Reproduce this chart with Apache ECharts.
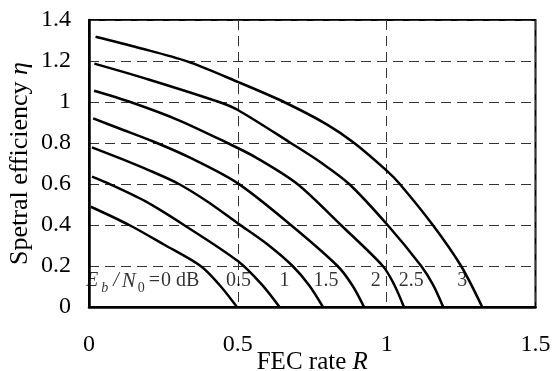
<!DOCTYPE html>
<html>
<head>
<meta charset="utf-8">
<script src="https://cdn.jsdelivr.net/npm/echarts@6/dist/echarts.min.js"></script>
<style>
  html, body { margin: 0; background: #fff; }
  #chart { width: 553px; height: 371px; }
</style>
</head>
<body>
<div id="chart"></div>
<script>
// spectral efficiency vs FEC rate, one curve per Eb/N0 (dB)
const ebn0 = ['0', '0.5', '1', '1.5', '2', '2.5', '3']

// [R, eta]
const curve0 = [[0.006, 0.489], [0.135, 0.40], [0.25, 0.306], [0.375, 0.20], [0.44, 0.105], [0.497, 0]]
const curve05 = [[0.01, 0.636], [0.061, 0.605], [0.19, 0.515], [0.319, 0.40], [0.5, 0.224], [0.58, 0.11], [0.64, 0]]
const curve1 = [[0.01, 0.779], [0.105, 0.725], [0.2, 0.668], [0.302, 0.60], [0.4, 0.512], [0.5, 0.408], [0.6, 0.305], [0.684, 0.20], [0.74, 0.105], [0.786, 0]]
const curve15 = [[0.014, 0.92], [0.1, 0.872], [0.218, 0.806], [0.341, 0.727], [0.5, 0.603], [0.678, 0.40], [0.835, 0.20], [0.885, 0.105], [0.924, 0]]
const curve2 = [[0.017, 1.055], [0.139, 1.0], [0.3, 0.912], [0.465, 0.80], [0.56, 0.73], [0.7, 0.60], [0.846, 0.40], [0.987, 0.20], [1.025, 0.11], [1.058, 0]]
const curve25 = [[0.018, 1.187], [0.2, 1.11], [0.437, 1.0], [0.5, 0.961], [0.678, 0.80], [0.779, 0.705], [0.874, 0.60], [1.003, 0.40], [1.116, 0.20], [1.155, 0.11], [1.19, 0]]
const curve3 = [[0.022, 1.318], [0.166, 1.265], [0.33, 1.198], [0.5, 1.098], [0.655, 1.0], [0.8, 0.89], [0.891, 0.80], [1.0, 0.665], [1.044, 0.60], [1.155, 0.40], [1.25, 0.20], [1.321, 0]]

const curves = [curve0, curve05, curve1, curve15, curve2, curve25, curve3]

const font = '"Liberation Serif", "Times New Roman", serif'

// where the Eb/N0 tags sit
const tagAt = [[-0.01, 0.122], [0.502, 0.122], [0.657, 0.122], [0.796, 0.122], [0.963, 0.122], [1.083, 0.122], [1.254, 0.122]]

const chart = echarts.init(document.getElementById('chart'))

const series = curves.map((pts, i) => ({
  name: ebn0[i] + ' dB',
  type: 'line',
  data: pts,
  symbol: 'none',
  smooth: 0.3,
  lineStyle: { color: '#000', width: 2.5 },
  z: 3
}))

const tok = (extra) => Object.assign({ fontSize: 20, fontFamily: font, color: '#000', verticalAlign: 'top', lineHeight: 22 }, extra)

series.push({
  type: 'scatter',
  symbolSize: 0,
  clip: false,
  silent: true,
  data: tagAt.map((p, i) => ({
    value: p,
    label: {
      show: true,
      position: 'inside',
      align: i === 0 ? 'left' : 'center',
      verticalAlign: 'middle',
      formatter: i === 0
        ? '{e|E}{s|b}{sl|/}{nn|N}{z|0}{eq|=}{n|0 dB}'
        : '{n|' + ebn0[i] + '}'
    }
  })),
  label: {
    color: '#000',
    fontFamily: font,
    rich: {
      n: tok({}),
      e: tok({ fontStyle: 'italic', padding: [0, 1, 0, 0] }),
      sl: tok({ fontStyle: 'italic', padding: [0, 2, 0, 2] }),
      nn: tok({ fontStyle: 'italic', fontSize: 21, padding: [0, 1, 0, 1] }),
      eq: tok({ padding: [0, 1, 0, 2] }),
      s: tok({ fontSize: 14, fontStyle: 'italic', lineHeight: 14, padding: [10, 3, 0, 2] }),
      z: tok({ fontSize: 14, lineHeight: 14, padding: [10, 2, 0, 1] })
    }
  },
  z: 4
})

const splitDash = { color: '#333', width: 1, type: [10, 6] }

const nameStyle = (size) => ({
  fontSize: size, fontFamily: font, color: '#000',
  rich: { i: { fontSize: size, fontFamily: font, fontStyle: 'italic', color: '#000' } }
})

chart.setOption({
  animation: false,
  backgroundColor: '#fff',
  grid: {
    left: 89, right: 17.5, top: 20, bottom: 64,
    outerBoundsMode: 'none',
    containLabel: false,
    show: true, borderColor: '#000', borderWidth: 2
  },
  xAxis: {
    type: 'value',
    min: 0, max: 1.5, interval: 0.5,
    name: 'FEC rate {i|R}',
    nameLocation: 'middle',
    nameGap: 43,
    nameMoveOverlap: false,
    nameTextStyle: nameStyle(25),
    axisLine: { show: true, lineStyle: { color: '#000', width: 2.5 } },
    axisTick: { show: false },
    axisLabel: { margin: 26, fontSize: 24, fontFamily: font, color: '#000' },
    splitLine: { show: true, lineStyle: splitDash }
  },
  yAxis: {
    type: 'value',
    min: 0, max: 1.4, interval: 0.2,
    name: 'Spetral efficiency {i|η}',
    nameLocation: 'middle',
    nameGap: 56,
    nameMoveOverlap: false,
    nameTextStyle: nameStyle(26),
    axisLine: { show: true, lineStyle: { color: '#000', width: 2.5 } },
    axisTick: { show: false },
    axisLabel: { margin: 18, fontSize: 24, fontFamily: font, color: '#000' },
    splitLine: { show: true, lineStyle: splitDash }
  },
  series
})
</script>
</body>
</html>
